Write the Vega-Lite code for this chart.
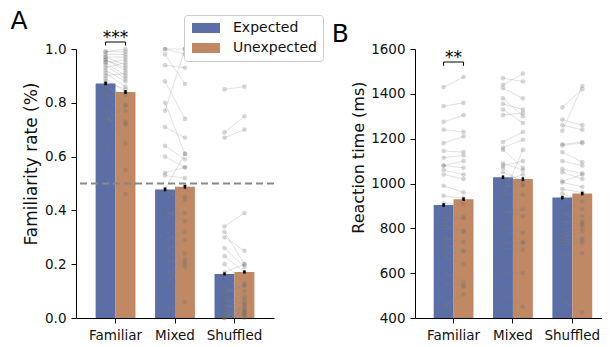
{
"$schema":"https://vega.github.io/schema/vega-lite/v6.json",
"padding":{"left":10,"top":9,"right":0,"bottom":0},
"config":{"font":"DejaVu Sans","view":{"stroke":null},
 "axis":{"domainColor":"#000","tickColor":"#000","labelColor":"#111","titleColor":"#111","labelFontSize":13.5,"titleFontSize":16,"titleFontWeight":"normal","grid":false,"tickSize":5,"labelPadding":5,"titlePadding":4,"domainWidth":1,"tickWidth":1},
 "legend":{"orient":"none","legendX":108,"legendY":-34,"strokeColor":"#cccccc","cornerRadius":3,"padding":6,"fillColor":"white","labelFontSize":14,"labelColor":"#111","labelOffset":29,"symbolType":"M-1,-1H4.6V1H-1Z","symbolSize":100,"symbolStrokeWidth":0,"symbolOpacity":1,"rowPadding":6,"title":null},
 "title":{"fontSize":25,"fontWeight":"normal","anchor":"start","frame":"bounds","color":"#000"}
},
"datasets":{
"subjA":[
{"c":"Familiar","s":1,"Expected":0.99,"Unexpected":1.00},{"c":"Familiar","s":2,"Expected":0.98,"Unexpected":0.98},{"c":"Familiar","s":3,"Expected":0.97,"Unexpected":0.94},{"c":"Familiar","s":4,"Expected":0.97,"Unexpected":0.97},{"c":"Familiar","s":5,"Expected":0.96,"Unexpected":0.92},{"c":"Familiar","s":6,"Expected":0.95,"Unexpected":0.96},{"c":"Familiar","s":7,"Expected":0.95,"Unexpected":0.90},{"c":"Familiar","s":8,"Expected":0.94,"Unexpected":0.89},{"c":"Familiar","s":9,"Expected":0.93,"Unexpected":0.95},{"c":"Familiar","s":10,"Expected":0.92,"Unexpected":0.88},{"c":"Familiar","s":11,"Expected":0.91,"Unexpected":0.86},{"c":"Familiar","s":12,"Expected":0.90,"Unexpected":0.91},{"c":"Familiar","s":13,"Expected":0.89,"Unexpected":0.84},{"c":"Familiar","s":14,"Expected":0.88,"Unexpected":0.85},{"c":"Familiar","s":15,"Expected":0.87,"Unexpected":0.79},{"c":"Familiar","s":16,"Expected":0.86,"Unexpected":0.83},{"c":"Familiar","s":17,"Expected":0.84,"Unexpected":0.77},{"c":"Familiar","s":18,"Expected":0.83,"Unexpected":0.73},{"c":"Familiar","s":19,"Expected":0.78,"Unexpected":0.72},{"c":"Familiar","s":20,"Expected":0.76,"Unexpected":0.65},{"c":"Familiar","s":21,"Expected":0.74,"Unexpected":0.72},{"c":"Familiar","s":22,"Expected":0.73,"Unexpected":0.79},{"c":"Familiar","s":23,"Expected":0.64,"Unexpected":0.55},{"c":"Familiar","s":24,"Expected":0.52,"Unexpected":0.46},{"c":"Familiar","s":25,"Expected":0.99,"Unexpected":0.99},{"c":"Familiar","s":26,"Expected":0.96,"Unexpected":0.93},
{"c":"Mixed","s":1,"Expected":1.00,"Unexpected":1.00},{"c":"Mixed","s":2,"Expected":1.00,"Unexpected":0.98},{"c":"Mixed","s":3,"Expected":0.98,"Unexpected":0.87},{"c":"Mixed","s":4,"Expected":0.94,"Unexpected":0.93},{"c":"Mixed","s":5,"Expected":0.88,"Unexpected":0.74},{"c":"Mixed","s":6,"Expected":0.80,"Unexpected":0.61},{"c":"Mixed","s":7,"Expected":0.77,"Unexpected":1.00},{"c":"Mixed","s":8,"Expected":0.71,"Unexpected":0.67},{"c":"Mixed","s":9,"Expected":0.64,"Unexpected":0.59},{"c":"Mixed","s":10,"Expected":0.60,"Unexpected":0.56},{"c":"Mixed","s":11,"Expected":0.54,"Unexpected":0.56},{"c":"Mixed","s":12,"Expected":0.53,"Unexpected":0.52},{"c":"Mixed","s":13,"Expected":0.48,"Unexpected":0.61},{"c":"Mixed","s":14,"Expected":0.44,"Unexpected":0.49},{"c":"Mixed","s":15,"Expected":0.39,"Unexpected":0.39},{"c":"Mixed","s":16,"Expected":0.36,"Unexpected":0.44},{"c":"Mixed","s":17,"Expected":0.33,"Unexpected":0.24},{"c":"Mixed","s":18,"Expected":0.29,"Unexpected":0.32},{"c":"Mixed","s":19,"Expected":0.26,"Unexpected":0.20},{"c":"Mixed","s":20,"Expected":0.25,"Unexpected":0.29},{"c":"Mixed","s":21,"Expected":0.22,"Unexpected":0.19},{"c":"Mixed","s":22,"Expected":0.16,"Unexpected":0.22},{"c":"Mixed","s":23,"Expected":0.03,"Unexpected":0.06},{"c":"Mixed","s":24,"Expected":0.47,"Unexpected":0.45},{"c":"Mixed","s":25,"Expected":0.40,"Unexpected":0.36},{"c":"Mixed","s":26,"Expected":0.12,"Unexpected":0.21},
{"c":"Shuffled","s":1,"Expected":0.85,"Unexpected":0.86},{"c":"Shuffled","s":2,"Expected":0.69,"Unexpected":0.75},{"c":"Shuffled","s":3,"Expected":0.67,"Unexpected":0.70},{"c":"Shuffled","s":4,"Expected":0.34,"Unexpected":0.39},{"c":"Shuffled","s":5,"Expected":0.32,"Unexpected":0.20},{"c":"Shuffled","s":6,"Expected":0.30,"Unexpected":0.25},{"c":"Shuffled","s":7,"Expected":0.26,"Unexpected":0.19},{"c":"Shuffled","s":8,"Expected":0.23,"Unexpected":0.17},{"c":"Shuffled","s":9,"Expected":0.20,"Unexpected":0.13},{"c":"Shuffled","s":10,"Expected":0.17,"Unexpected":0.20},{"c":"Shuffled","s":11,"Expected":0.15,"Unexpected":0.10},{"c":"Shuffled","s":12,"Expected":0.12,"Unexpected":0.07},{"c":"Shuffled","s":13,"Expected":0.09,"Unexpected":0.12},{"c":"Shuffled","s":14,"Expected":0.08,"Unexpected":0.05},{"c":"Shuffled","s":15,"Expected":0.07,"Unexpected":0.03},{"c":"Shuffled","s":16,"Expected":0.06,"Unexpected":0.08},{"c":"Shuffled","s":17,"Expected":0.05,"Unexpected":0.02},{"c":"Shuffled","s":18,"Expected":0.04,"Unexpected":0.06},{"c":"Shuffled","s":19,"Expected":0.03,"Unexpected":0.04},{"c":"Shuffled","s":20,"Expected":0.02,"Unexpected":0.01},{"c":"Shuffled","s":21,"Expected":0.02,"Unexpected":0.03},{"c":"Shuffled","s":22,"Expected":0.01,"Unexpected":0.02},{"c":"Shuffled","s":23,"Expected":0.01,"Unexpected":0.00},{"c":"Shuffled","s":24,"Expected":0.00,"Unexpected":0.01},{"c":"Shuffled","s":25,"Expected":0.00,"Unexpected":0.05},{"c":"Shuffled","s":26,"Expected":0.10,"Unexpected":0.12}
],
"subjB":[
{"c":"Familiar","s":1,"Expected":1430,"Unexpected":1475},{"c":"Familiar","s":2,"Expected":1345,"Unexpected":1360},{"c":"Familiar","s":3,"Expected":1275,"Unexpected":1305},{"c":"Familiar","s":4,"Expected":1240,"Unexpected":1230},{"c":"Familiar","s":5,"Expected":1180,"Unexpected":1210},{"c":"Familiar","s":6,"Expected":1145,"Unexpected":1140},{"c":"Familiar","s":7,"Expected":1115,"Unexpected":1125},{"c":"Familiar","s":8,"Expected":1080,"Unexpected":1100},{"c":"Familiar","s":9,"Expected":1080,"Unexpected":1070},{"c":"Familiar","s":10,"Expected":1060,"Unexpected":1040},{"c":"Familiar","s":11,"Expected":1040,"Unexpected":1020},{"c":"Familiar","s":12,"Expected":990,"Unexpected":960},{"c":"Familiar","s":13,"Expected":945,"Unexpected":935},{"c":"Familiar","s":14,"Expected":910,"Unexpected":910},{"c":"Familiar","s":15,"Expected":845,"Unexpected":850},{"c":"Familiar","s":16,"Expected":815,"Unexpected":790},{"c":"Familiar","s":17,"Expected":800,"Unexpected":785},{"c":"Familiar","s":18,"Expected":755,"Unexpected":740},{"c":"Familiar","s":19,"Expected":730,"Unexpected":700},{"c":"Familiar","s":20,"Expected":690,"Unexpected":695},{"c":"Familiar","s":21,"Expected":675,"Unexpected":640},{"c":"Familiar","s":22,"Expected":605,"Unexpected":560},{"c":"Familiar","s":23,"Expected":555,"Unexpected":545},{"c":"Familiar","s":24,"Expected":455,"Unexpected":505},{"c":"Familiar","s":25,"Expected":445,"Unexpected":540},{"c":"Familiar","s":26,"Expected":830,"Unexpected":845},
{"c":"Mixed","s":1,"Expected":1470,"Unexpected":1455},{"c":"Mixed","s":2,"Expected":1440,"Unexpected":1490},{"c":"Mixed","s":3,"Expected":1425,"Unexpected":1380},{"c":"Mixed","s":4,"Expected":1380,"Unexpected":1300},{"c":"Mixed","s":5,"Expected":1355,"Unexpected":1330},{"c":"Mixed","s":6,"Expected":1330,"Unexpected":1270},{"c":"Mixed","s":7,"Expected":1305,"Unexpected":1315},{"c":"Mixed","s":8,"Expected":1185,"Unexpected":1230},{"c":"Mixed","s":9,"Expected":1160,"Unexpected":1195},{"c":"Mixed","s":10,"Expected":1090,"Unexpected":1060},{"c":"Mixed","s":11,"Expected":1080,"Unexpected":1100},{"c":"Mixed","s":12,"Expected":1070,"Unexpected":995},{"c":"Mixed","s":13,"Expected":1010,"Unexpected":1040},{"c":"Mixed","s":14,"Expected":985,"Unexpected":990},{"c":"Mixed","s":15,"Expected":950,"Unexpected":950},{"c":"Mixed","s":16,"Expected":945,"Unexpected":1150},{"c":"Mixed","s":17,"Expected":880,"Unexpected":855},{"c":"Mixed","s":18,"Expected":870,"Unexpected":885},{"c":"Mixed","s":19,"Expected":810,"Unexpected":780},{"c":"Mixed","s":20,"Expected":800,"Unexpected":740},{"c":"Mixed","s":21,"Expected":735,"Unexpected":735},{"c":"Mixed","s":22,"Expected":710,"Unexpected":705},{"c":"Mixed","s":23,"Expected":600,"Unexpected":600},{"c":"Mixed","s":24,"Expected":510,"Unexpected":450},{"c":"Mixed","s":25,"Expected":1150,"Unexpected":1070},{"c":"Mixed","s":26,"Expected":1050,"Unexpected":1010},
{"c":"Shuffled","s":1,"Expected":1340,"Unexpected":1420},{"c":"Shuffled","s":2,"Expected":1285,"Unexpected":1260},{"c":"Shuffled","s":3,"Expected":1260,"Unexpected":1240},{"c":"Shuffled","s":4,"Expected":1235,"Unexpected":1435},{"c":"Shuffled","s":5,"Expected":1175,"Unexpected":1185},{"c":"Shuffled","s":6,"Expected":1140,"Unexpected":1095},{"c":"Shuffled","s":7,"Expected":1100,"Unexpected":1080},{"c":"Shuffled","s":8,"Expected":1065,"Unexpected":1045},{"c":"Shuffled","s":9,"Expected":1050,"Unexpected":1020},{"c":"Shuffled","s":10,"Expected":1005,"Unexpected":985},{"c":"Shuffled","s":11,"Expected":975,"Unexpected":960},{"c":"Shuffled","s":12,"Expected":955,"Unexpected":920},{"c":"Shuffled","s":13,"Expected":935,"Unexpected":885},{"c":"Shuffled","s":14,"Expected":870,"Unexpected":855},{"c":"Shuffled","s":15,"Expected":865,"Unexpected":830},{"c":"Shuffled","s":16,"Expected":790,"Unexpected":820},{"c":"Shuffled","s":17,"Expected":775,"Unexpected":800},{"c":"Shuffled","s":18,"Expected":760,"Unexpected":785},{"c":"Shuffled","s":19,"Expected":750,"Unexpected":755},{"c":"Shuffled","s":20,"Expected":740,"Unexpected":745},{"c":"Shuffled","s":21,"Expected":725,"Unexpected":735},{"c":"Shuffled","s":22,"Expected":680,"Unexpected":690},{"c":"Shuffled","s":23,"Expected":475,"Unexpected":425},{"c":"Shuffled","s":24,"Expected":1170,"Unexpected":1180},{"c":"Shuffled","s":25,"Expected":1010,"Unexpected":1040},{"c":"Shuffled","s":26,"Expected":830,"Unexpected":815}
],
"barsA":[
{"c":"Familiar","type":"Expected","mean":0.872,"lo":0.865,"hi":0.879},{"c":"Familiar","type":"Unexpected","mean":0.840,"lo":0.833,"hi":0.847},
{"c":"Mixed","type":"Expected","mean":0.478,"lo":0.471,"hi":0.485},{"c":"Mixed","type":"Unexpected","mean":0.488,"lo":0.481,"hi":0.495},
{"c":"Shuffled","type":"Expected","mean":0.164,"lo":0.158,"hi":0.170},{"c":"Shuffled","type":"Unexpected","mean":0.171,"lo":0.165,"hi":0.177}
],
"barsB":[
{"c":"Familiar","type":"Expected","mean":904,"lo":896,"hi":912},{"c":"Familiar","type":"Unexpected","mean":930,"lo":922,"hi":938},
{"c":"Mixed","type":"Expected","mean":1028,"lo":1020,"hi":1036},{"c":"Mixed","type":"Unexpected","mean":1020,"lo":1012,"hi":1028},
{"c":"Shuffled","type":"Expected","mean":937,"lo":929,"hi":945},{"c":"Shuffled","type":"Unexpected","mean":955,"lo":947,"hi":963}
],
"bracketA":[{"c":"Familiar","type":"Expected","y":1.013,"o":1},{"c":"Familiar","type":"Expected","y":1.026,"o":2},{"c":"Familiar","type":"Unexpected","y":1.026,"o":3},{"c":"Familiar","type":"Unexpected","y":1.013,"o":4}],
"bracketB":[{"c":"Familiar","type":"Expected","y":1525,"o":1},{"c":"Familiar","type":"Expected","y":1542,"o":2},{"c":"Familiar","type":"Unexpected","y":1542,"o":3},{"c":"Familiar","type":"Unexpected","y":1525,"o":4}],
"starsA":[{"c":"Familiar","label":"***","y":1.022}],
"starsB":[{"c":"Familiar","label":"**","y":1538}]
},
"spacing":56,
"hconcat":[
{"width":198,"height":269,
 "title":{"text":"A","dx":-12,"offset":-5},
 "encoding":{
  "x":{"field":"c","type":"nominal","sort":["Familiar","Mixed","Shuffled"],"scale":{"paddingInner":0.33,"paddingOuter":0.33},"axis":{"title":null,"labelAngle":0}},
  "xOffset":{"field":"type","type":"nominal","sort":["Expected","Unexpected"],"scale":{"paddingInner":0,"paddingOuter":0}}
 },
 "layer":[
  {"data":{"name":"barsA"},"mark":{"type":"bar","opacity":1},
   "encoding":{"y":{"field":"mean","type":"quantitative","scale":{"domain":[0,1]},"axis":{"title":"Familiarity rate (%)","titleFontSize":17,"titleAlign":"right","titleY":33,"values":[0,0.2,0.4,0.6,0.8,1.0],"format":".1f"}},
    "color":{"field":"type","type":"nominal","scale":{"domain":["Expected","Unexpected"],"range":["#5b6fa6","#c08964"]}}}},
  {"data":{"name":"subjA"},"transform":[{"fold":["Expected","Unexpected"],"as":["type","value"]}],"mark":{"type":"line","color":"#888888","strokeWidth":1,"opacity":0.25},
   "encoding":{"y":{"field":"value","type":"quantitative"},"detail":[{"field":"s"},{"field":"c"}],"xOffset":{"field":"type","type":"nominal","sort":["Expected","Unexpected"]}}},
  {"data":{"name":"subjA"},"transform":[{"fold":["Expected","Unexpected"],"as":["type","value"]}],"mark":{"type":"circle","color":"#6e6e6e","size":22,"opacity":0.28},
   "encoding":{"y":{"field":"value","type":"quantitative"}}},
  {"data":{"name":"barsA"},"mark":{"type":"rule","color":"#000","strokeWidth":2.5},
   "encoding":{"y":{"field":"lo","type":"quantitative"},"y2":{"field":"hi"}}},
  {"data":{"values":[{"h":0.5}]},"mark":{"type":"rule","color":"#888888","strokeWidth":2,"strokeDash":[7,4]},
   "encoding":{"y":{"field":"h","type":"quantitative"},"x":null,"xOffset":null}},
  {"data":{"name":"bracketA"},"mark":{"type":"line","color":"#000","strokeWidth":1},
   "encoding":{"y":{"field":"y","type":"quantitative"},"order":{"field":"o"}}},
  {"data":{"name":"starsA"},"mark":{"type":"text","fontSize":17,"baseline":"alphabetic","color":"#000"},
   "encoding":{"y":{"field":"y","type":"quantitative"},"text":{"field":"label"},"xOffset":null}}
 ]},
{"width":187,"height":269,
 "title":{"text":"B","dx":-19,"offset":-5},
 "encoding":{
  "x":{"field":"c","type":"nominal","sort":["Familiar","Mixed","Shuffled"],"scale":{"paddingInner":0.33,"paddingOuter":0.24,"align":0.655},"axis":{"title":null,"labelAngle":0}},
  "xOffset":{"field":"type","type":"nominal","sort":["Expected","Unexpected"],"scale":{"paddingInner":0,"paddingOuter":0}}
 },
 "layer":[
  {"data":{"name":"barsB"},"mark":{"type":"bar","opacity":1},
   "encoding":{"y":{"field":"mean","type":"quantitative","scale":{"domain":[400,1600]},"axis":{"title":"Reaction time (ms)","titleAlign":"right","titleY":32,"values":[400,600,800,1000,1200,1400,1600],"format":"d"}},
    "y2":{"datum":400},
    "color":{"field":"type","type":"nominal","scale":{"domain":["Expected","Unexpected"],"range":["#5b6fa6","#c08964"]}}}},
  {"data":{"name":"subjB"},"transform":[{"fold":["Expected","Unexpected"],"as":["type","value"]}],"mark":{"type":"line","color":"#888888","strokeWidth":1,"opacity":0.25},
   "encoding":{"y":{"field":"value","type":"quantitative"},"detail":[{"field":"s"},{"field":"c"}],"xOffset":{"field":"type","type":"nominal","sort":["Expected","Unexpected"]}}},
  {"data":{"name":"subjB"},"transform":[{"fold":["Expected","Unexpected"],"as":["type","value"]}],"mark":{"type":"circle","color":"#6e6e6e","size":22,"opacity":0.28},
   "encoding":{"y":{"field":"value","type":"quantitative"}}},
  {"data":{"name":"barsB"},"mark":{"type":"rule","color":"#000","strokeWidth":2.5},
   "encoding":{"y":{"field":"lo","type":"quantitative"},"y2":{"field":"hi"}}},
  {"data":{"name":"bracketB"},"mark":{"type":"line","color":"#000","strokeWidth":1},
   "encoding":{"y":{"field":"y","type":"quantitative"},"order":{"field":"o"}}},
  {"data":{"name":"starsB"},"mark":{"type":"text","fontSize":17,"baseline":"alphabetic","color":"#000"},
   "encoding":{"y":{"field":"y","type":"quantitative"},"text":{"field":"label"},"xOffset":null}}
 ]}
]
}
